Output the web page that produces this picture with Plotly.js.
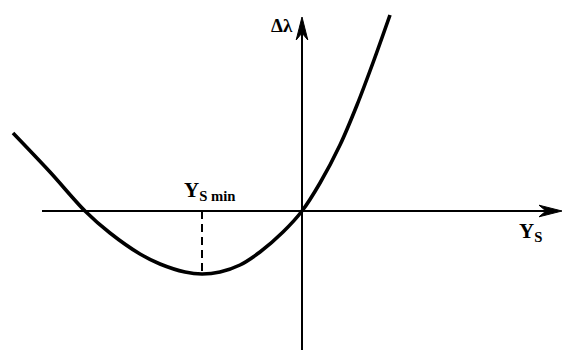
<!DOCTYPE html>
<html>
<head>
<meta charset="utf-8">
<script src="https://cdn.plot.ly/plotly-3.0.1.min.js"></script>
<style>
  html, body { margin: 0; padding: 0; background: #fff; }
  #chart { width: 572px; height: 350px; }
</style>
</head>
<body>
<div id="chart"></div>
<script>
// Wavelength shift Δλ as a function of Y_S (schematic curve)
const ysValues = [-2.89, -2.52, -2.17, -1.92, -1.62, -1.42, -1.17, -1.00, -0.82, -0.62, -0.42, -0.19, 0.00, 0.18, 0.38, 0.55, 0.72, 0.88];
const dLambda  = [ 0.78,  0.39,  0.00, -0.22, -0.43, -0.53, -0.61, -0.63, -0.61, -0.54, -0.41, -0.21, 0.00, 0.28, 0.66, 1.06, 1.51, 1.96];

// Position of the minimum
const ysMin = -1.00;
const dLambdaMin = -0.61;

// Axis extents (x axis from left end to arrow tip, y axis from bottom to arrow tip)
const xAxisSpan = [-2.60, 2.60];
const yAxisSpan = [-1.40, 1.94];

const ink = '#000';
const serif = 'Liberation Serif, Times New Roman, serif';

// Barbed arrowhead pointing along +x or +y, built from its tip position
function arrowHead(tipX, tipY, dir) {
  const len = 0.23, half = 0.058, notch = 0.16;
  if (dir === 'x') {
    return `M${tipX},${tipY} L${tipX - len},${tipY + half} L${tipX - notch},${tipY} L${tipX - len},${tipY - half} Z`;
  }
  return `M${tipX},${tipY} L${tipX - half},${tipY - len} L${tipX},${tipY - notch} L${tipX + half},${tipY - len} Z`;
}

const traces = [{
  type: 'scatter',
  mode: 'lines',
  x: ysValues,
  y: dLambda,
  line: { color: ink, width: 3.6, shape: 'spline', smoothing: 0.9 },
  hoverinfo: 'skip'
}];

const shapes = [
  // horizontal axis
  { type: 'line', xref: 'x', yref: 'y', x0: xAxisSpan[0], x1: xAxisSpan[1] - 0.15, y0: 0, y1: 0,
    line: { color: ink, width: 2 } },
  // vertical axis
  { type: 'line', xref: 'x', yref: 'y', x0: 0, x1: 0, y0: yAxisSpan[0], y1: yAxisSpan[1] - 0.15,
    line: { color: ink, width: 2 } },
  // arrowheads
  { type: 'path', xref: 'x', yref: 'y', path: arrowHead(xAxisSpan[1], 0, 'x'),
    fillcolor: ink, line: { color: ink, width: 1 } },
  { type: 'path', xref: 'x', yref: 'y', path: arrowHead(0, yAxisSpan[1], 'y'),
    fillcolor: ink, line: { color: ink, width: 1 } },
  // dashed drop line at the minimum
  { type: 'line', xref: 'x', yref: 'y', x0: ysMin, x1: ysMin, y0: 0, y1: dLambdaMin,
    line: { color: ink, width: 2, dash: '8px,5px' } }
];

const annotations = [
  { xref: 'x', yref: 'y', x: -0.20, y: 1.86, text: '<b>Δλ</b>', showarrow: false,
    font: { family: serif, size: 19, color: ink } },
  { xref: 'x', yref: 'y', x: -0.92, y: 0.20, text: '<b>Y<sub>S min</sub></b>', showarrow: false,
    font: { family: serif, size: 21, color: ink } },
  { xref: 'x', yref: 'y', x: 2.28, y: -0.21, text: '<b>Y<sub>S</sub></b>', showarrow: false,
    font: { family: serif, size: 21, color: ink } }
];

const layout = {
  width: 572,
  height: 350,
  margin: { l: 0, r: 0, t: 0, b: 0, pad: 0 },
  paper_bgcolor: '#fff',
  plot_bgcolor: '#fff',
  showlegend: false,
  xaxis: { range: [-3.02, 2.70], visible: false, fixedrange: true },
  yaxis: { range: [-1.39, 2.11], visible: false, fixedrange: true },
  shapes: shapes,
  annotations: annotations
};

Plotly.newPlot('chart', traces, layout, { displayModeBar: false, staticPlot: true });
</script>
</body>
</html>
